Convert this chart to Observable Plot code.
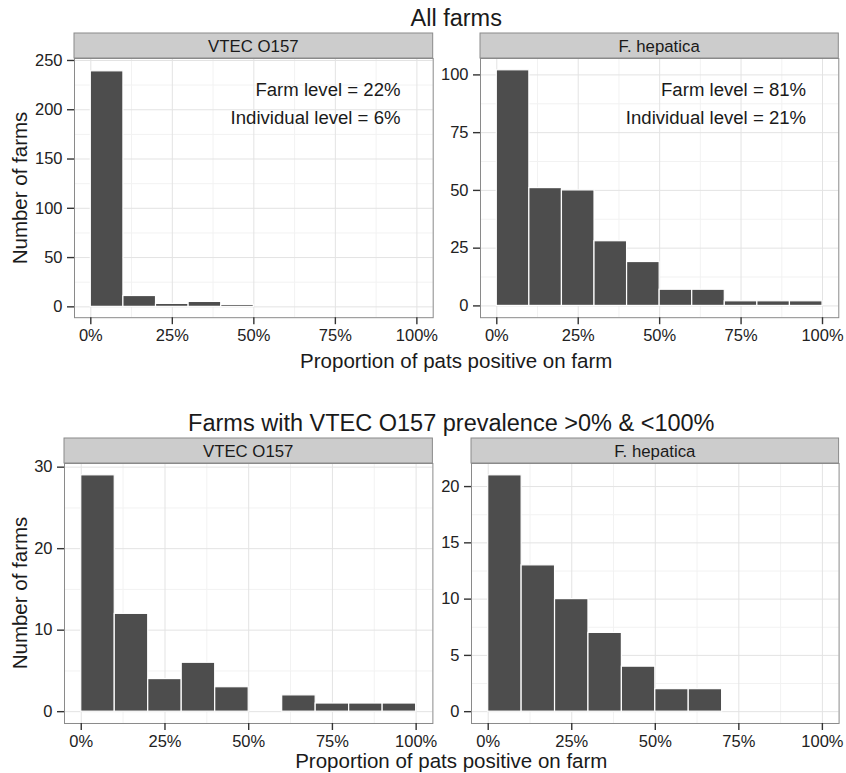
<!DOCTYPE html>
<html><head><meta charset="utf-8">
<script src="https://cdn.jsdelivr.net/npm/d3@7"></script>
<script src="https://cdn.jsdelivr.net/npm/@observablehq/plot@0.6"></script>
<style>
body{margin:0;background:#fff;}
#fig{position:relative;width:846px;height:773px;font-family:"Liberation Sans",Arial,Helvetica,sans-serif;color:#1a1a1a;overflow:hidden;background:#fff;}
.abs{position:absolute;white-space:nowrap;line-height:1;}
.title{font-size:23.5px;transform:translateX(-50%);}
.xlab{font-size:20.5px;transform:translateX(-50%);}
.ylab{font-size:20.5px;transform:translate(-50%,-50%) rotate(-90deg);}
svg{position:absolute;overflow:visible;}
</style></head><body><div id="fig"></div>
<script>
// ---- data ----
const binStarts = [0, 0.1, 0.2, 0.3, 0.4, 0.5, 0.6, 0.7, 0.8, 0.9];
const binWidth = 0.1;
const allVtecCounts = [239, 11, 3, 5, 2, 0, 0, 0, 0, 0];
const allFhCounts = [102, 51, 50, 28, 19, 7, 7, 2, 2, 2];
const subVtecCounts = [29, 12, 4, 6, 3, 0, 2, 1, 1, 1];
const subFhCounts = [21, 13, 10, 7, 4, 2, 2, 0, 0, 0];
const rowTitles = ["All farms", "Farms with VTEC O157 prevalence >0% & <100%"];
const facetLabels = ["VTEC O157", "F. hepatica"];
const xTicks = [0, 0.25, 0.5, 0.75, 1];
const xMinor = [0.125, 0.375, 0.625, 0.875];
const yTicksAllVtec = [0, 50, 100, 150, 200, 250];
const yTicksAllFh = [0, 25, 50, 75, 100];
const yTicksSubVtec = [0, 10, 20, 30];
const yTicksSubFh = [0, 5, 10, 15, 20];
const annotAllVtec = ["Farm level = 22%", "Individual level = 6%"];
const annotAllFh = ["Farm level = 81%", "Individual level = 21%"];
const xLabel = "Proportion of pats positive on farm";
const yLabel = "Number of farms";

const fig = document.getElementById("fig");
const FONT = '"Liberation Sans", Arial, Helvetica, sans-serif';

function addDiv(cls, text, left, top) {
  const d = document.createElement("div");
  d.className = "abs " + cls;
  d.textContent = text;
  d.style.left = left + "px";
  d.style.top = top + "px";
  fig.appendChild(d);
}

function minorOf(ticks) {
  const out = [];
  for (let i = 0; i < ticks.length - 1; i++) out.push((ticks[i] + ticks[i + 1]) / 2);
  return out;
}

function makePanel(c) {
  const mL = 60, mR = 4, mT = 26, mB = 36;
  const fw = c.x1 - c.x0, fh = c.y1 - c.y0;
  const bins = binStarts.map((s, i) => ({x1: s, x2: s + binWidth, y: c.counts[i]})).filter(d => d.y > 0);
  const yMinor = minorOf(c.yTicks);
  const marks = [
    Plot.ruleX(xMinor, {stroke: "#f2f2f2", strokeWidth: 1}),
    Plot.ruleY(yMinor, {stroke: "#f2f2f2", strokeWidth: 1}),
    Plot.ruleX(xTicks, {stroke: "#e3e3e3", strokeWidth: 1}),
    Plot.ruleY(c.yTicks, {stroke: "#e3e3e3", strokeWidth: 1}),
    Plot.rectY(bins, {x1: "x1", x2: "x2", y: "y", fill: "#4d4d4d", stroke: "#ffffff", strokeWidth: 1.2}),
    Plot.frame({stroke: "#8a8a8a", strokeWidth: 1}),
    Plot.axisX(xTicks, {tickSize: 7, tickPadding: 5, tickFormat: d3.format(".0%"), fontSize: 16.5, stroke: "#333", strokeWidth: 1.4, fill: "#222", label: null}),
    Plot.axisY(c.yTicks, {tickSize: 7, tickPadding: 5, fontSize: 16.5, stroke: "#333", strokeWidth: 1.4, fill: "#222", label: null}),
    (index, scales, values, dims) => {
      const g = d3.create("svg:g");
      const x = dims.marginLeft, w = dims.width - dims.marginLeft - dims.marginRight;
      g.append("rect").attr("x", x).attr("y", dims.marginTop - 25).attr("width", w).attr("height", 25)
        .attr("fill", "#cccccc").attr("stroke", "#8a8a8a").attr("stroke-width", 1);
      g.append("text").attr("x", x + w / 2).attr("y", dims.marginTop - 5.8).attr("text-anchor", "middle")
        .attr("font-size", 16.8).attr("fill", "#1a1a1a").attr("font-family", FONT).text(c.strip);
      return g.node();
    }
  ];
  if (c.annot) {
    marks.push(Plot.text([c.annot[0]], {text: d => d, frameAnchor: "top-right", textAnchor: "end", lineAnchor: "bottom", dx: -32.7, dy: 37.7, fontSize: 18.6, fill: "#1a1a1a"}));
    marks.push(Plot.text([c.annot[1]], {text: d => d, frameAnchor: "top-right", textAnchor: "end", lineAnchor: "bottom", dx: -32.7, dy: 66, fontSize: 18.6, fill: "#1a1a1a"}));
  }
  const svg = Plot.plot({
    width: fw + mL + mR,
    height: fh + mT + mB,
    marginLeft: mL, marginRight: mR, marginTop: mT, marginBottom: mB,
    x: {domain: [-0.05, 1.05]},
    y: {domain: c.yDomain},
    style: {fontFamily: FONT, fontSize: "16.5px", background: "transparent", color: "#222"},
    marks
  });
  svg.style.left = (c.x0 - mL) + "px";
  svg.style.top = (c.y0 - mT) + "px";
  fig.appendChild(svg);
}

makePanel({x0: 74, x1: 432.7, y0: 58.3, y1: 317.5, yDomain: [-11, 252], yTicks: yTicksAllVtec, counts: allVtecCounts, strip: facetLabels[0], annot: annotAllVtec});
makePanel({x0: 480, x1: 838.3, y0: 58.3, y1: 317.5, yDomain: [-5.1, 107.1], yTicks: yTicksAllFh, counts: allFhCounts, strip: facetLabels[1], annot: annotAllFh});
makePanel({x0: 64.3, x1: 432.7, y0: 462.7, y1: 722.7, yDomain: [-1.45, 30.45], yTicks: yTicksSubVtec, counts: subVtecCounts, strip: facetLabels[0]});
makePanel({x0: 470.7, x1: 838.3, y0: 462.7, y1: 722.7, yDomain: [-1.05, 22.05], yTicks: yTicksSubFh, counts: subFhCounts, strip: facetLabels[1]});

addDiv("title", rowTitles[0], 456.2, 6.8);
addDiv("title", rowTitles[1], 451.3, 411.6);
addDiv("xlab", xLabel, 456.2, 350.6);
addDiv("xlab", xLabel, 451.3, 750.6);
addDiv("ylab", yLabel, 19.6, 188);
addDiv("ylab", yLabel, 19.6, 592.7);
</script></body></html>
